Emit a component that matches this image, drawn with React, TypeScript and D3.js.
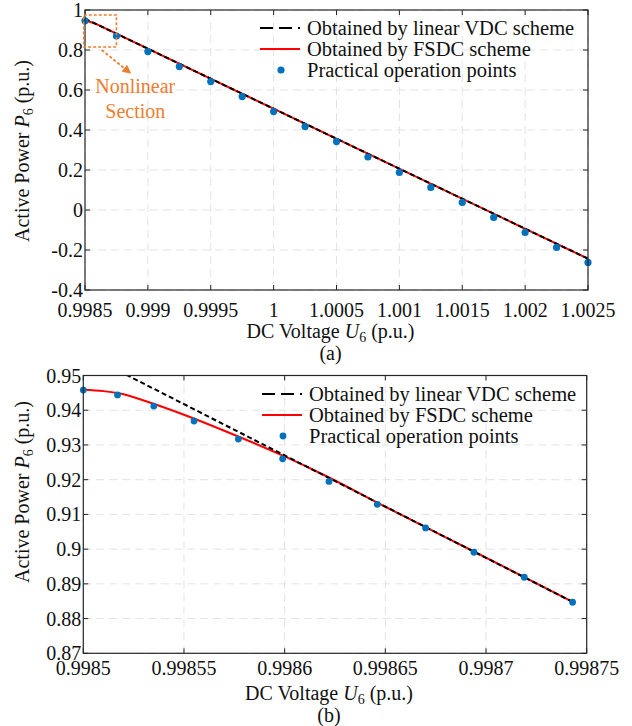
import React from "react";
import * as d3 from "d3";

// ---------- Data: panel (a) ----------
const opUa = [0.9985, 0.99875, 0.999, 0.99925, 0.9995, 0.99975, 1, 1.00025, 1.0005, 1.00075, 1.001, 1.00125, 1.0015, 1.00175, 1.002, 1.00225, 1.0025];
const opPa = [0.946, 0.87, 0.792, 0.717, 0.642, 0.567, 0.492, 0.417, 0.342, 0.265, 0.188, 0.113, 0.038, -0.037, -0.112, -0.187, -0.262];
const linUa = [0.9985, 1.0025];
const linPa = [0.9565, -0.2435];
const fsdcUa = [0.9985, 0.99855, 0.9986, 0.99865, 1.0025];
const fsdcPa = [0.9459, 0.9387, 0.9267, 0.9115, -0.2435];
const xTicksA = [0.9985, 0.999, 0.9995, 1, 1.0005, 1.001, 1.0015, 1.002, 1.0025];
const xTickLabelsA = ["0.9985", "0.999", "0.9995", "1", "1.0005", "1.001", "1.0015", "1.002", "1.0025"];
const yTicksA = [-0.4, -0.2, 0, 0.2, 0.4, 0.6, 0.8, 1];
const yTickLabelsA = ["-0.4", "-0.2", "0", "0.2", "0.4", "0.6", "0.8", "1"];

// ---------- Data: panel (b) ----------
const opUb = [0.9985, 0.998517, 0.998535, 0.998555, 0.998577, 0.998599, 0.998622, 0.998646, 0.99867, 0.998694, 0.998719, 0.998743];
const opPb = [0.9458, 0.9444, 0.9412, 0.9369, 0.9317, 0.926, 0.9195, 0.9129, 0.9061, 0.8991, 0.8919, 0.8847];
const linUb = [0.9985, 0.998743];
const linPb = [0.9565, 0.8848];
const fsdcUb = [0.9985, 0.99851, 0.99852, 0.99853, 0.99855, 0.99857, 0.9986, 0.99862, 0.99865, 0.99868, 0.99871, 0.998743];
const fsdcPb = [0.9459, 0.9455, 0.9446, 0.9428, 0.9387, 0.9341, 0.9267, 0.9212, 0.9122, 0.9034, 0.8946, 0.8848];
const xTicksB = [0.9985, 0.99855, 0.9986, 0.99865, 0.9987, 0.99875];
const xTickLabelsB = ["0.9985", "0.99855", "0.9986", "0.99865", "0.9987", "0.99875"];
const yTicksB = [0.87, 0.88, 0.89, 0.9, 0.91, 0.92, 0.93, 0.94, 0.95];
const yTickLabelsB = ["0.87", "0.88", "0.89", "0.9", "0.91", "0.92", "0.93", "0.94", "0.95"];

const legendLabels = ["Obtained by linear VDC scheme", "Obtained by FSDC scheme", "Practical operation points"];

const FONT = "'Liberation Serif', 'Times New Roman', serif";
const BLUE = "#0072BD";
const RED = "#FF0000";
const ORANGE = "#ED7D31";

type PanelProps = {
  id: string;
  x: d3.ScaleLinear<number, number>;
  y: d3.ScaleLinear<number, number>;
  xTicks: number[]; xLabels: string[];
  yTicks: number[]; yLabels: string[];
  opU: number[]; opP: number[];
  linU: number[]; linP: number[];
  fsU: number[]; fsP: number[];
  tickBaseline: number; titleBaseline: number; capBaseline: number; caption: string;
  yTitleX: number; yTitleY: number;
  legendX: number; legendY: number[];
  dotR: number;
};

function Panel(p: PanelProps) {
  const { x, y } = p;
  const [x0, x1] = x.range();
  const [y0, y1] = y.range(); // y0 bottom, y1 top
  const lineGen = d3.line<[number, number]>().x(d => x(d[0])).y(d => y(d[1]));
  const curveGen = d3.line<[number, number]>().x(d => x(d[0])).y(d => y(d[1])).curve(d3.curveMonotoneX);
  const linPts = p.linU.map((u, i) => [u, p.linP[i]] as [number, number]);
  const fsPts = p.fsU.map((u, i) => [u, p.fsP[i]] as [number, number]);
  const tick = 5;
  return (
    <g>
      <defs>
        <clipPath id={p.id}>
          <rect x={x0} y={y1} width={x1 - x0} height={y0 - y1} />
        </clipPath>
      </defs>
      {p.xTicks.map((t, i) => (
        <line key={"gx" + i} x1={x(t)} x2={x(t)} y1={y0} y2={y1} stroke="#e3e3e3" strokeWidth={1} strokeDasharray="8,5" />
      ))}
      {p.yTicks.map((t, i) => (
        <line key={"gy" + i} x1={x0} x2={x1} y1={y(t)} y2={y(t)} stroke="#e3e3e3" strokeWidth={1} strokeDasharray="8,5" />
      ))}
      <g clipPath={`url(#${p.id})`}>
        <path d={curveGen(fsPts) || ""} fill="none" stroke={RED} strokeWidth={2} />
        <path d={lineGen(linPts) || ""} fill="none" stroke="#000" strokeWidth={2} strokeDasharray="5,3" />
      </g>
      {p.opU.map((u, i) => (
        <circle key={"pt" + i} cx={x(u)} cy={y(p.opP[i])} r={p.dotR} fill={BLUE} />
      ))}
      <rect x={x0} y={y1} width={x1 - x0} height={y0 - y1} fill="none" stroke="#262626" strokeWidth={1.2} />
      {p.xTicks.map((t, i) => (
        <g key={"tx" + i}>
          <line x1={x(t)} x2={x(t)} y1={y0} y2={y0 - tick} stroke="#262626" />
          <line x1={x(t)} x2={x(t)} y1={y1} y2={y1 + tick} stroke="#262626" />
        </g>
      ))}
      {p.yTicks.map((t, i) => (
        <g key={"ty" + i}>
          <line x1={x0} x2={x0 + tick} y1={y(t)} y2={y(t)} stroke="#262626" />
          <line x1={x1} x2={x1 - tick} y1={y(t)} y2={y(t)} stroke="#262626" />
        </g>
      ))}
      {p.xTicks.map((t, i) => (
        <text key={"lx" + i} x={x(t)} y={p.tickBaseline} textAnchor="middle" fontSize={20} fontFamily={FONT} fill="#111">{p.xLabels[i]}</text>
      ))}
      {p.yTicks.map((t, i) => (
        <text key={"ly" + i} x={x0 - 2} y={y(t)} dy="0.35em" textAnchor="end" fontSize={20} fontFamily={FONT} fill="#111">{p.yLabels[i]}</text>
      ))}
      <text x={(x0 + x1) / 2 - 6} y={p.titleBaseline} textAnchor="middle" fontSize={20} fontFamily={FONT} fill="#111">
        DC Voltage <tspan fontStyle="italic">U</tspan><tspan fontSize={14} dy={4}>6</tspan><tspan dy={-4}> (p.u.)</tspan>
      </text>
      <text x={(x0 + x1) / 2 - 6} y={p.capBaseline} textAnchor="middle" fontSize={20} fontFamily={FONT} fill="#111">{p.caption}</text>
      <text transform={`translate(${p.yTitleX},${p.yTitleY}) rotate(-90)`} textAnchor="middle" fontSize={20} fontFamily={FONT} fill="#111">
        Active Power <tspan fontStyle="italic">P</tspan><tspan fontSize={14} dy={4}>6</tspan><tspan dy={-4}> (p.u.)</tspan>
      </text>
      <line x1={p.legendX - 47} x2={p.legendX - 7} y1={p.legendY[0]} y2={p.legendY[0]} stroke="#000" strokeWidth={2} strokeDasharray="13,6" />
      <line x1={p.legendX - 47} x2={p.legendX - 7} y1={p.legendY[1]} y2={p.legendY[1]} stroke={RED} strokeWidth={2} />
      <circle cx={p.legendX - 26} cy={p.legendY[2]} r={p.dotR} fill={BLUE} />
      {legendLabels.map((s, i) => (
        <text key={"lg" + i} x={p.legendX} y={p.legendY[i]} dy="0.33em" fontSize={20.5} fontFamily={FONT} fill="#111">{s}</text>
      ))}
    </g>
  );
}

export default function App() {
  const xA = d3.scaleLinear().domain([0.9985, 1.0025]).range([85, 588]);
  const yA = d3.scaleLinear().domain([-0.4, 1]).range([290, 10]);
  const xB = d3.scaleLinear().domain([0.9985, 0.99875]).range([83.3, 586.7]);
  const yB = d3.scaleLinear().domain([0.87, 0.95]).range([653.3, 375.5]);

  const boxU = [0.99849, 0.99875];
  const boxP = [0.975, 0.815];
  const bx0 = xA(boxU[0]), bx1 = xA(boxU[1]);
  const by0 = yA(boxP[0]), by1 = yA(boxP[1]);

  return (
    <div>
      <style>{`body{margin:0}`}</style>
      <svg width={632} height={726} style={{ display: "block", background: "#fff" }}>
        <defs>
          <marker id="arrowO" viewBox="0 0 10 10" refX="5" refY="5" markerWidth="5" markerHeight="5" orient="auto">
            <path d="M0,0 L10,5 L0,10 z" fill={ORANGE} />
          </marker>
        </defs>
        <Panel id="clipA" x={xA} y={yA}
          xTicks={xTicksA} xLabels={xTickLabelsA} yTicks={yTicksA} yLabels={yTickLabelsA}
          opU={opUa} opP={opPa} linU={linUa} linP={linPa} fsU={fsdcUa} fsP={fsdcPa}
          tickBaseline={317} titleBaseline={338} capBaseline={360} caption="(a)"
          yTitleX={29} yTitleY={151}
          legendX={307} legendY={[28, 49, 70]}
          dotR={3.6} />
        <Panel id="clipB" x={xB} y={yB}
          xTicks={xTicksB} xLabels={xTickLabelsB} yTicks={yTicksB} yLabels={yTickLabelsB}
          opU={opUb} opP={opPb} linU={linUb} linP={linPb} fsU={fsdcUb} fsP={fsdcPb}
          tickBaseline={675} titleBaseline={700} capBaseline={722} caption="(b)"
          yTitleX={29} yTitleY={492}
          legendX={309} legendY={[394, 415, 436]}
          dotR={3.4} />
        <rect x={bx0} y={by0} width={bx1 - bx0} height={by1 - by0} fill="none" stroke={ORANGE} strokeWidth={1.6} strokeDasharray="3,2" />
        <line x1={bx0 + 18} y1={by1 + 3} x2={bx0 + 44} y2={by1 + 24} stroke={ORANGE} strokeWidth={1.8} strokeDasharray="3,2" markerEnd="url(#arrowO)" />
        <text x={xA(0.9989)} y={by1 + 46} textAnchor="middle" fontSize={20} fontFamily={FONT} fill={ORANGE}>Nonlinear</text>
        <text x={xA(0.9989)} y={by1 + 71} textAnchor="middle" fontSize={20} fontFamily={FONT} fill={ORANGE}>Section</text>
      </svg>
    </div>
  );
}
